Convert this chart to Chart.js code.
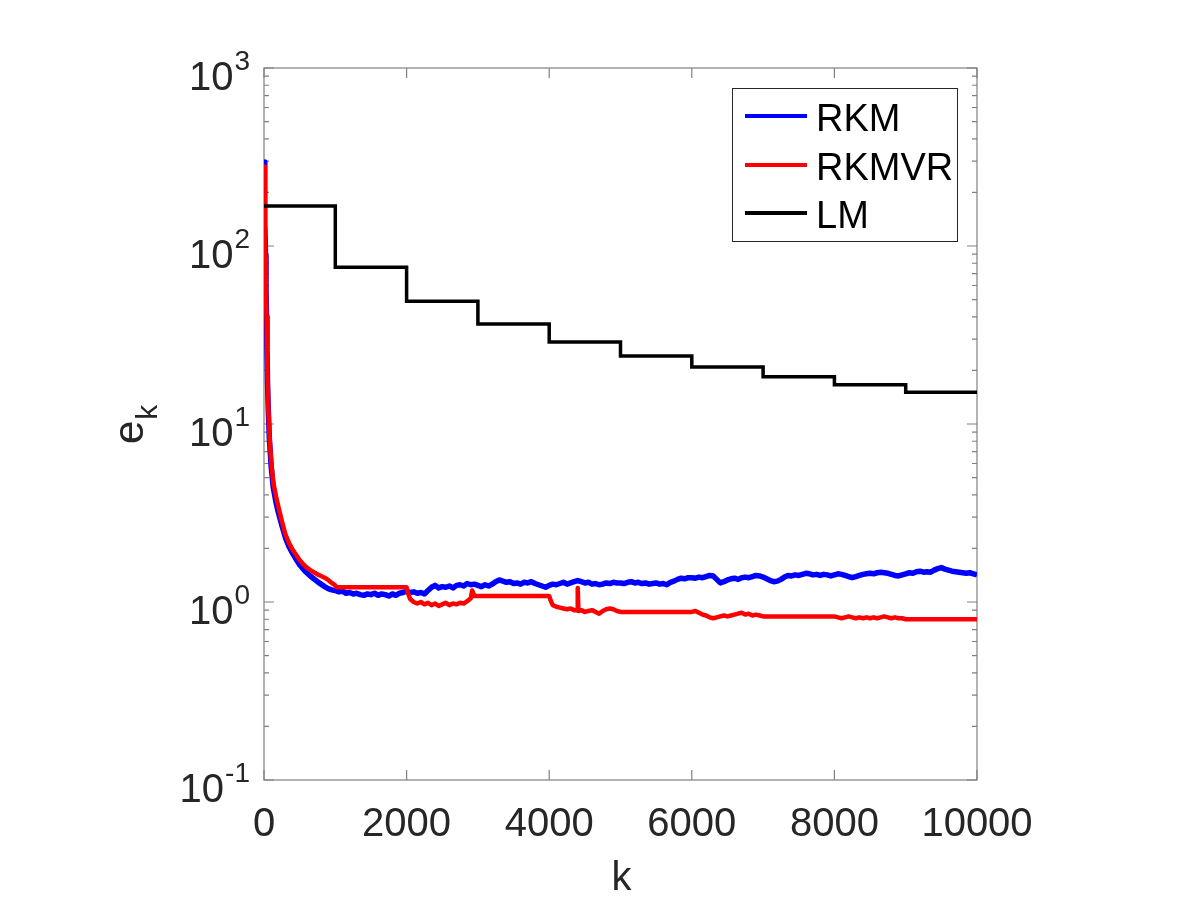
<!DOCTYPE html>
<html>
<head>
<title>e_k vs k</title>
<script src="https://cdn.jsdelivr.net/npm/chart.js"></script>
<style>body{margin:0;background:#fff}</style>
</head>
<body>
<canvas id="ek-chart" width="1200" height="900"></canvas>
<script>
const FONT = '"Liberation Sans", Arial, Helvetica, sans-serif';
const xTicks = [0, 2000, 4000, 6000, 8000, 10000];
const yDecades = [-1, 0, 1, 2, 3];

// RKM: fast decay first, then one reading every 50 iterations from k = 1000
const kRkmHead = [0, 7, 14, 21, 28, 35, 42, 50, 60, 75, 100, 130, 170, 200, 250, 300, 350, 400, 450, 500, 550, 600, 650, 700, 750, 800, 850, 900, 950];
const eRkmHead = [296, 205, 135, 88, 57, 40, 26, 17, 12, 8.3, 5.8, 4.4, 3.6, 3.2, 2.7, 2.3, 2.05, 1.88, 1.74, 1.62, 1.53, 1.46, 1.40, 1.35, 1.30, 1.26, 1.22, 1.19, 1.17];
const rkmTailStart = 1000;
const rkmTailStep = 50;
const eRkmTail = [
  1.16, 1.14, 1.15, 1.12, 1.13, 1.11, 1.12, 1.10, 1.09, 1.11,
  1.10, 1.12, 1.09, 1.11, 1.10, 1.08, 1.11, 1.09, 1.12, 1.13,
  1.15, 1.13, 1.14, 1.12, 1.13, 1.11, 1.16, 1.21, 1.24, 1.20,
  1.22, 1.21, 1.23, 1.20, 1.24, 1.25, 1.23, 1.27, 1.25, 1.26,
  1.24, 1.22, 1.25, 1.23, 1.26, 1.30, 1.33, 1.31, 1.29, 1.30,
  1.27, 1.28, 1.26, 1.29, 1.28, 1.30, 1.27, 1.25, 1.23, 1.21,
  1.24, 1.26, 1.25, 1.27, 1.29, 1.26, 1.28, 1.30, 1.32, 1.30,
  1.28, 1.29, 1.26, 1.27, 1.25, 1.26, 1.28, 1.27, 1.29, 1.28,
  1.28, 1.27, 1.29, 1.30, 1.28, 1.29, 1.27, 1.28, 1.26, 1.27,
  1.28, 1.26, 1.27, 1.25, 1.29, 1.31, 1.34, 1.36, 1.35, 1.37,
  1.37, 1.36, 1.38, 1.37, 1.39, 1.41, 1.40, 1.34, 1.28, 1.30,
  1.33, 1.35, 1.36, 1.34, 1.37, 1.38, 1.37, 1.39, 1.41, 1.40,
  1.38, 1.35, 1.32, 1.30, 1.31, 1.34, 1.38, 1.41, 1.40, 1.42,
  1.41, 1.43, 1.45, 1.44, 1.42, 1.43, 1.41, 1.43, 1.42, 1.40,
  1.42, 1.44, 1.43, 1.41, 1.39, 1.37, 1.39, 1.41, 1.43, 1.44,
  1.45, 1.44, 1.46, 1.47, 1.46, 1.45, 1.43, 1.41, 1.40, 1.42,
  1.44, 1.46, 1.45, 1.48, 1.49, 1.47, 1.48, 1.47, 1.51, 1.54,
  1.56, 1.53, 1.51, 1.49, 1.48, 1.47, 1.46, 1.45, 1.46, 1.44,
  1.42
];

// RKMVR
const kVr = [
  0, 7, 14, 21, 28, 35, 42, 50, 60, 75, 100, 130, 170, 200, 250, 300, 350, 400, 450, 500,
  550, 600, 650, 700, 750, 800, 850, 900, 950, 1000, 1020,
  2000, 2020, 2050, 2100, 2150, 2200, 2250, 2300, 2350, 2400, 2450, 2500, 2550, 2600, 2650, 2700, 2750, 2800, 2850, 2900, 2920, 2950, 3000,
  4000, 4020, 4050, 4100, 4150, 4200, 4250, 4300, 4350, 4390, 4400, 4410, 4450, 4500, 4550, 4600, 4650, 4700, 4750, 4800, 4850, 4900, 4950, 5000,
  6000, 6050, 6100, 6150, 6200, 6250, 6300, 6350, 6400, 6450, 6500, 6550, 6600, 6650, 6700, 6750, 6800, 6850, 6900, 6950, 7000,
  8000, 8050, 8100, 8150, 8200, 8250, 8300, 8350, 8400, 8450, 8500, 8550, 8600, 8650, 8700, 8750, 8800, 8850, 8900, 8950, 9000,
  10000
];
const eVr = [
  280, 200, 130, 86, 57, 40, 27, 18, 12.5, 8.8, 6.2, 4.7, 3.9, 3.45, 2.85, 2.4, 2.15, 1.97, 1.84, 1.72,
  1.63, 1.56, 1.51, 1.47, 1.43, 1.40, 1.37, 1.33, 1.28, 1.24, 1.21,
  1.21, 1.12, 1.04, 1.00, 0.98, 1.00, 0.97, 0.99, 0.96, 0.98, 0.95, 0.97, 0.99, 0.96, 0.98, 0.97, 0.99, 0.98, 1.01, 1.05, 1.16, 1.08, 1.08,
  1.08, 1.02, 0.96, 0.94, 0.93, 0.92, 0.91, 0.92, 0.90, 0.90, 1.20, 0.89, 0.90, 0.88, 0.89, 0.90, 0.88, 0.86, 0.89, 0.91, 0.92, 0.91, 0.89, 0.88,
  0.88, 0.89, 0.87, 0.85, 0.84, 0.82, 0.81, 0.82, 0.83, 0.84, 0.83, 0.84, 0.85, 0.86, 0.87, 0.85, 0.86, 0.84, 0.85, 0.84, 0.83,
  0.83, 0.82, 0.81, 0.82, 0.83, 0.82, 0.81, 0.82, 0.81, 0.82, 0.81, 0.82, 0.81, 0.82, 0.83, 0.82, 0.81, 0.82, 0.81, 0.81, 0.80,
  0.80
];

// LM (piecewise constant)
const kLm = [0, 1000, 2000, 3000, 4000, 5000, 6000, 7000, 8000, 9000, 10000];
const eLm = [168, 76, 49, 36.5, 28.9, 24.1, 20.9, 18.4, 16.6, 15.1, 15.1];

const legendNames = ['RKM', 'RKMVR', 'LM'];
const lineColors = ['#0000ff', '#ff0000', '#000000'];

function toPoints(ks, es) {
  return ks.map((k, i) => ({ x: k, y: es[i] }));
}
const rkmPoints = toPoints(kRkmHead, eRkmHead).concat(
  eRkmTail.map((e, i) => ({ x: rkmTailStart + i * rkmTailStep, y: e }))
);

// box, inward ticks, tick labels, axis titles
const matlabAxes = {
  id: 'matlabAxes',
  beforeDatasetsDraw(chart) {
    const { ctx, chartArea: a, scales: { x, y } } = chart;
    ctx.save();
    ctx.strokeStyle = '#808080';
    ctx.lineWidth = 1.2;
    ctx.strokeRect(a.left, a.top, a.right - a.left, a.bottom - a.top);
    ctx.beginPath();
    xTicks.forEach(v => {
      const px = x.getPixelForValue(v);
      ctx.moveTo(px, a.bottom); ctx.lineTo(px, a.bottom - 10);
      ctx.moveTo(px, a.top); ctx.lineTo(px, a.top + 10);
    });
    yDecades.forEach(d => {
      const py = y.getPixelForValue(Math.pow(10, d));
      ctx.moveTo(a.left, py); ctx.lineTo(a.left + 10, py);
      ctx.moveTo(a.right, py); ctx.lineTo(a.right - 10, py);
      if (d < 3) {
        for (let m = 2; m <= 9; m++) {
          const pm = y.getPixelForValue(m * Math.pow(10, d));
          ctx.moveTo(a.left, pm); ctx.lineTo(a.left + 5, pm);
          ctx.moveTo(a.right, pm); ctx.lineTo(a.right - 5, pm);
        }
      }
    });
    ctx.stroke();

    ctx.fillStyle = '#262626';
    ctx.textBaseline = 'alphabetic';
    ctx.font = '40px ' + FONT;
    ctx.textAlign = 'center';
    xTicks.forEach(v => ctx.fillText(String(v), x.getPixelForValue(v), 836));

    ctx.textAlign = 'left';
    yDecades.forEach(d => {
      const py = y.getPixelForValue(Math.pow(10, d));
      const exp = String(d);
      ctx.font = '28px ' + FONT;
      const ew = ctx.measureText(exp).width;
      const ex = 250 - ew;
      ctx.fillText(exp, ex, py + 2);
      ctx.font = '40px ' + FONT;
      const tw = ctx.measureText('10').width;
      ctx.fillText('10', ex - 1 - tw, py + 22);
    });

    ctx.font = '40px ' + FONT;
    ctx.textAlign = 'center';
    ctx.fillText('k', (a.left + a.right) / 2 + 1, 890);

    ctx.translate(143, 444);
    ctx.rotate(-Math.PI / 2);
    ctx.textAlign = 'left';
    ctx.font = '42px ' + FONT;
    ctx.fillText('e', 0, 0);
    const eW = ctx.measureText('e').width;
    ctx.font = '30px ' + FONT;
    ctx.fillText('k', eW + 1, 14);
    ctx.restore();
  },
  afterDraw(chart) {
    const { ctx } = chart;
    ctx.save();
    ctx.fillStyle = '#ffffff';
    ctx.fillRect(732, 88, 225, 153);
    ctx.strokeStyle = '#262626';
    ctx.lineWidth = 1;
    ctx.strokeRect(732.5, 88.5, 225, 153);
    const rows = [116, 165, 213];
    ctx.font = '38px ' + FONT;
    ctx.textAlign = 'left';
    ctx.textBaseline = 'alphabetic';
    legendNames.forEach((name, i) => {
      ctx.strokeStyle = lineColors[i];
      ctx.lineWidth = 4;
      ctx.beginPath();
      ctx.moveTo(745, rows[i]);
      ctx.lineTo(807, rows[i]);
      ctx.stroke();
      ctx.fillStyle = '#000000';
      ctx.fillText(name, 816, rows[i] + 15);
    });
    ctx.restore();
  }
};

new Chart(document.getElementById('ek-chart').getContext('2d'), {
  type: 'line',
  data: {
    datasets: [
      { label: legendNames[0], data: rkmPoints, borderColor: lineColors[0], borderWidth: 5.5, order: 2 },
      { label: legendNames[1], data: toPoints(kVr, eVr), borderColor: lineColors[1], borderWidth: 4.5, order: 1 },
      { label: legendNames[2], data: toPoints(kLm, eLm), borderColor: lineColors[2], borderWidth: 3.5, stepped: 'before', order: 0, borderJoinStyle: 'miter' }
    ]
  },
  options: {
    responsive: false,
    devicePixelRatio: 1,
    animation: false,
    events: [],
    elements: {
      point: { radius: 0 },
      line: { tension: 0, fill: false, borderJoinStyle: 'round', borderCapStyle: 'butt' }
    },
    layout: { padding: { left: 0, top: 68, right: 223, bottom: 0 } },
    plugins: { legend: { display: false }, tooltip: { enabled: false } },
    scales: {
      x: {
        type: 'linear', min: 0, max: 10000,
        grid: { display: false }, border: { display: false },
        ticks: { display: false },
        afterFit(s) { s.height = 120; }
      },
      y: {
        type: 'logarithmic', min: 0.1, max: 1000,
        grid: { display: false }, border: { display: false },
        ticks: { display: false },
        afterFit(s) { s.width = 264; }
      }
    }
  },
  plugins: [matlabAxes]
});
</script>
</body>
</html>
